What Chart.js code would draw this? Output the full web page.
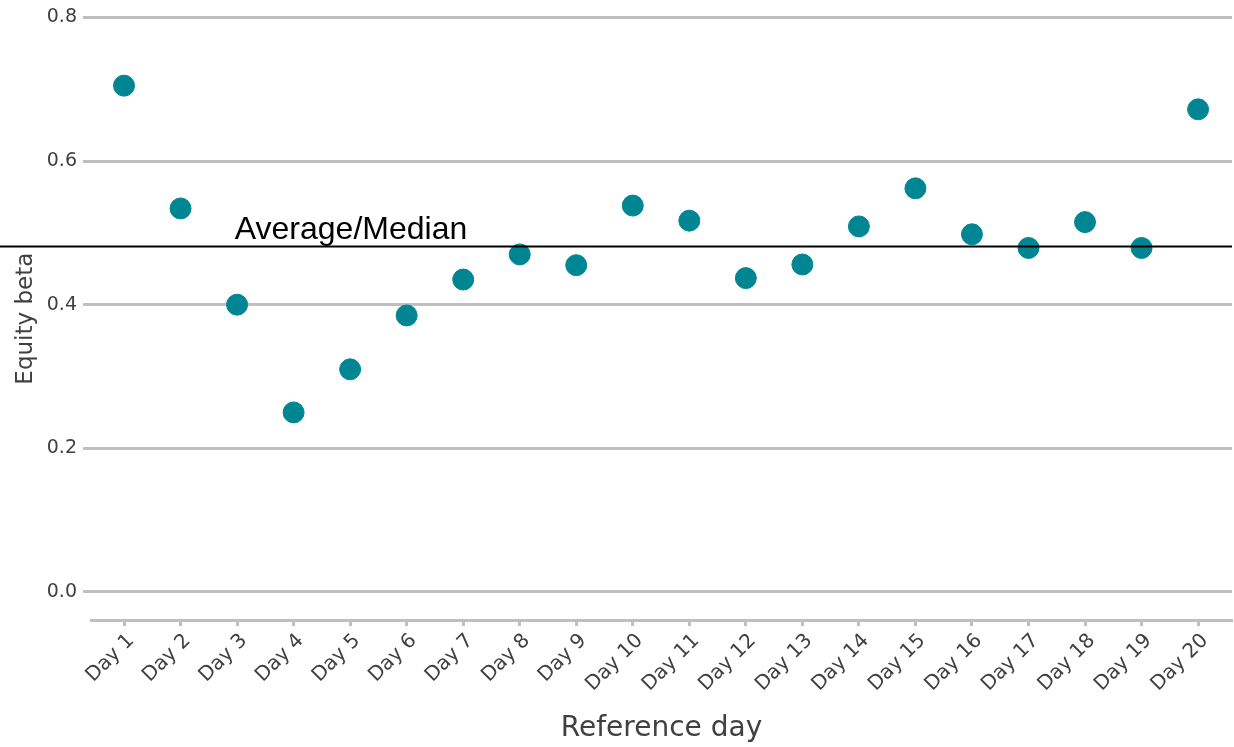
<!DOCTYPE html>
<html>
<head>
<meta charset="utf-8">
<script src="https://cdn.jsdelivr.net/npm/chart.js@4.4.1/dist/chart.umd.min.js"></script>
<style>
  html, body { margin: 0; padding: 0; background: #fff; }
  #wrap { width: 1234px; height: 747px; }
</style>
</head>
<body>
<div id="wrap"><canvas id="betaChart"></canvas></div>
<script>
// ========== DATA ==========
const days = ['Day 1', 'Day 2', 'Day 3', 'Day 4', 'Day 5', 'Day 6', 'Day 7', 'Day 8', 'Day 9', 'Day 10',
  'Day 11', 'Day 12', 'Day 13', 'Day 14', 'Day 15', 'Day 16', 'Day 17', 'Day 18', 'Day 19', 'Day 20'];
const equityBeta = [0.705, 0.534, 0.400, 0.250, 0.310, 0.385, 0.435, 0.470, 0.455, 0.538,
  0.517, 0.437, 0.456, 0.509, 0.562, 0.498, 0.479, 0.515, 0.479, 0.672];
const yTicks = [0.0, 0.2, 0.4, 0.6, 0.8];
const averageBeta = 0.481;
const averageLabel = 'Average/Median';

const GRID = '#bfbfbf';
const TEXT = '#404040';
const FONT = "'DejaVu Sans', sans-serif";

// ========== AVERAGE LINE PLUGIN ==========
const averageLine = {
  id: 'averageLine',
  afterDatasetsDraw(chart) {
    const { ctx, chartArea, scales } = chart;
    const y = scales.y.getPixelForValue(averageBeta);
    ctx.save();
    ctx.strokeStyle = '#000';
    ctx.lineWidth = 2;
    ctx.beginPath();
    ctx.moveTo(0, y);
    ctx.lineTo(chartArea.right, y);
    ctx.stroke();
    ctx.fillStyle = '#000';
    ctx.font = "32px 'Liberation Sans', Arial, sans-serif";
    ctx.textBaseline = 'alphabetic';
    ctx.fillText(averageLabel, scales.x.getPixelForValue(2.96), y - 8);
    ctx.restore();
  }
};

// ========== CHART ==========
new Chart(document.getElementById('betaChart'), {
  type: 'scatter',
  data: {
    datasets: [{
      label: 'Equity beta',
      data: equityBeta.map((v, i) => ({ x: i + 1, y: v })),
      backgroundColor: '#008592',
      borderColor: '#008592',
      pointRadius: 10.5,
      pointHoverRadius: 10.5
    }]
  },
  options: {
    responsive: true,
    maintainAspectRatio: false,
    animation: false,
    layout: { autoPadding: false, padding: { top: 17, right: 2, bottom: 1, left: 0 } },
    plugins: { legend: { display: false }, tooltip: { enabled: false } },
    scales: {
      x: {
        type: 'linear',
        min: 0.416,
        max: 20.6,
        afterBuildTicks: scale => { scale.ticks = days.map((d, i) => ({ value: i + 1 })); },
        afterFit: scale => { scale.paddingLeft = 0; scale.paddingRight = 0; scale.height = 126; },
        border: { display: true, color: GRID, width: 3 },
        grid: { drawOnChartArea: false, drawTicks: true, tickLength: 6, tickColor: GRID, tickWidth: 3 },
        ticks: {
          color: TEXT,
          font: { family: FONT, size: 20 },
          minRotation: 45,
          maxRotation: 45,
          padding: 3,
          labelOffset: 7,
          autoSkip: false,
          callback: value => days[value - 1]
        },
        title: {
          display: true,
          text: 'Reference day',
          color: TEXT,
          font: { family: FONT, size: 28 },
          padding: { top: 4, bottom: 0 }
        }
      },
      y: {
        min: -0.039,
        max: 0.8,
        afterBuildTicks: scale => { scale.ticks = yTicks.map(v => ({ value: v })); },
        afterFit: scale => { scale.width = 91; },
        border: { display: false },
        grid: { color: GRID, lineWidth: 3, drawTicks: true, tickLength: 8, tickColor: GRID },
        ticks: {
          color: TEXT,
          font: { family: FONT, size: 19 },
          padding: 6,
          callback: value => value.toFixed(1)
        },
        title: {
          display: true,
          text: 'Equity beta',
          color: TEXT,
          font: { family: FONT, size: 23 },
          padding: { top: 12, bottom: 0 }
        }
      }
    }
  },
  plugins: [averageLine]
});
</script>
</body>
</html>
